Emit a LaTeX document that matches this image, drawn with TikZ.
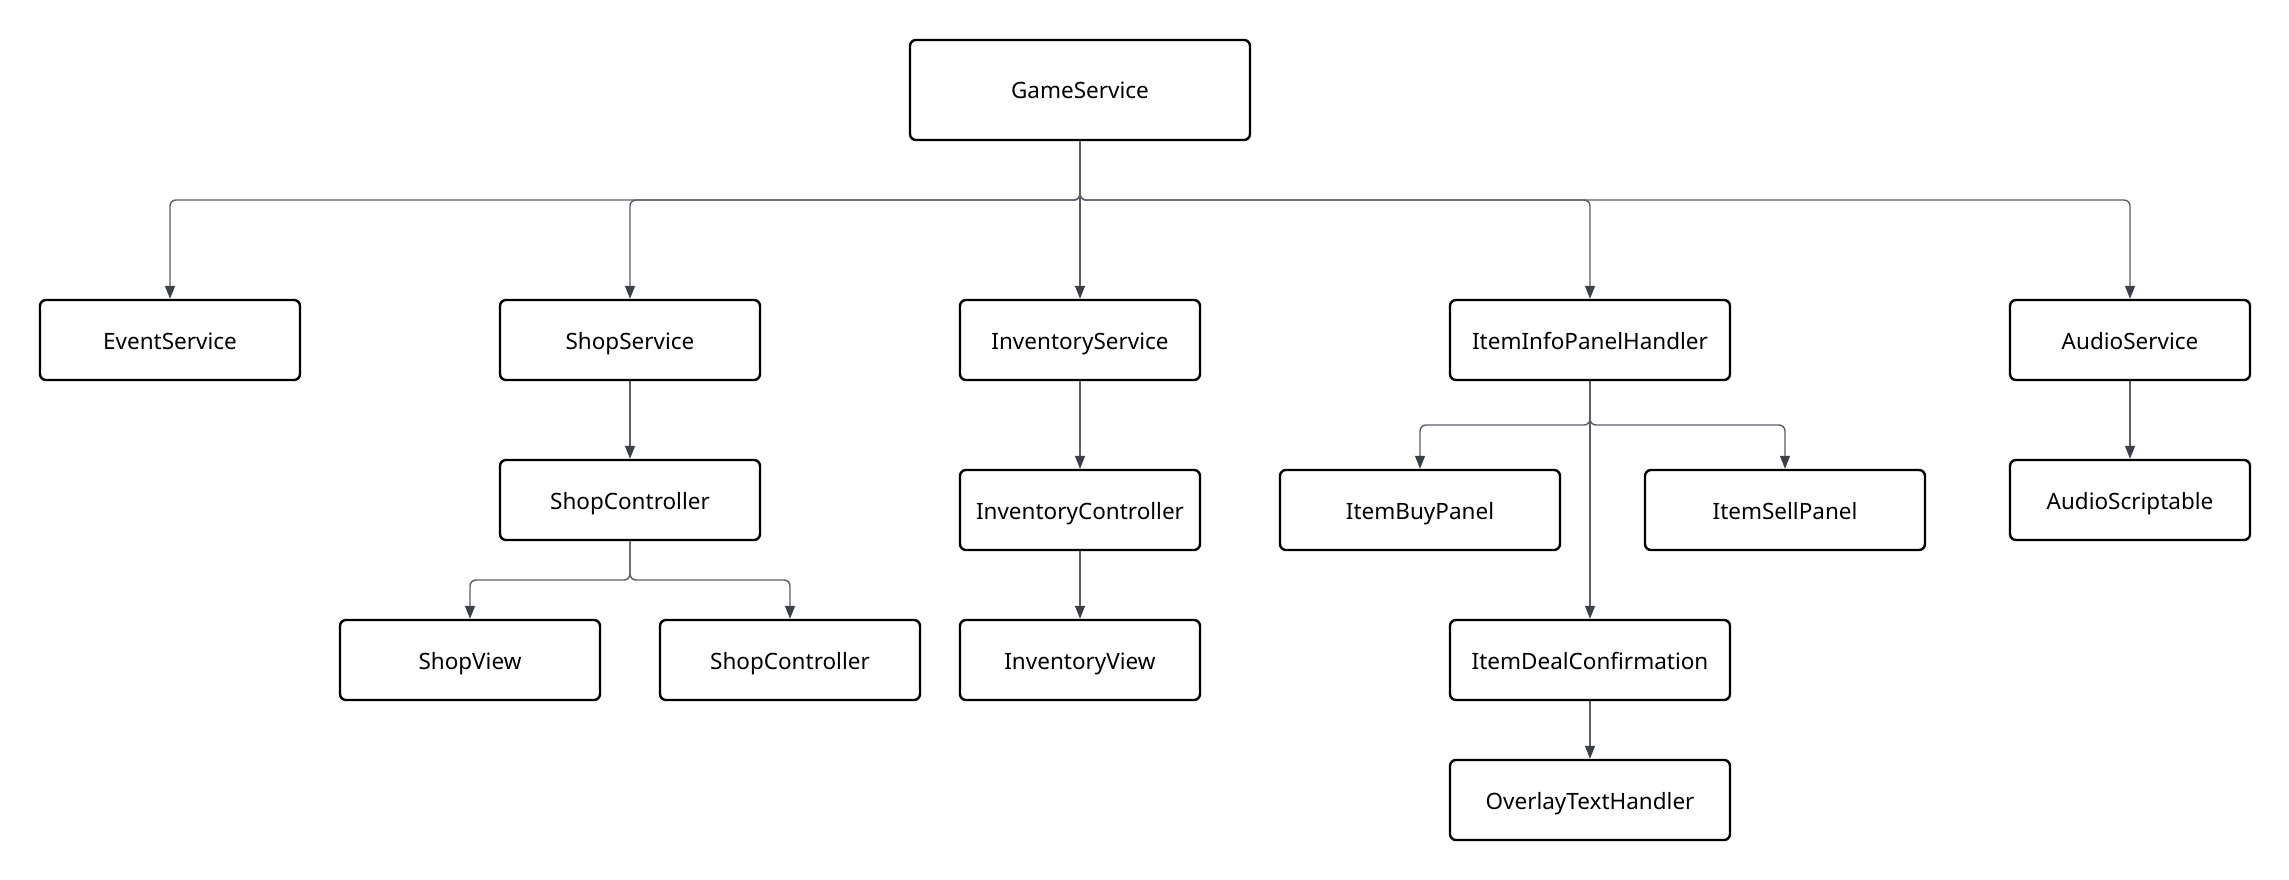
\documentclass[tikz,border=0pt]{standalone}
\usepackage{fontspec}
\setmainfont{Noto Sans}
\usetikzlibrary{arrows.meta}
\definecolor{edgegray}{HTML}{585D67}
\definecolor{tipgray}{HTML}{3B3F48}
\tikzset{
  box/.style={draw=black, line width=2.4pt, rounded corners=6pt, fill=white,
    minimum height=80pt, inner sep=0pt, align=center,
    text height=20pt, text depth=2pt,
    font=\fontsize{22.5}{27}\selectfont},
  link/.style={draw=edgegray, line width=1.4pt, rounded corners=6pt,
    -{Triangle[length=13pt,width=10pt,fill=tipgray,color=tipgray]}},
}
\begin{document}
\begin{tikzpicture}[x=1pt,y=-1pt]
\useasboundingbox[fill=white] (0,0) rectangle (2289,880);

% top level
\node[box, minimum width=340pt, minimum height=100pt] (game) at (1080,90) {GameService};

% first row
\node[box, minimum width=260pt] (event)    at (170,340)  {EventService};
\node[box, minimum width=260pt] (shopsvc)  at (630,340)  {ShopService};
\node[box, minimum width=240pt] (invsvc)   at (1080,340) {InventoryService};
\node[box, minimum width=280pt] (info)     at (1590,340) {ItemInfoPanelHandler};
\node[box, minimum width=240pt] (audiosvc) at (2130,340) {AudioService};

% second row
\node[box, minimum width=260pt] (shopctrl) at (630,500)  {ShopController};
\node[box, minimum width=240pt] (invctrl)  at (1080,510) {InventoryController};
\node[box, minimum width=280pt] (buy)      at (1420,510) {ItemBuyPanel};
\node[box, minimum width=280pt] (sell)     at (1785,510) {ItemSellPanel};
\node[box, minimum width=240pt] (audioscr) at (2130,500) {AudioScriptable};

% third row
\node[box, minimum width=260pt] (shopview)  at (470,660)  {ShopView};
\node[box, minimum width=260pt] (shopctrlb) at (790,660)  {ShopController};
\node[box, minimum width=240pt] (invview)   at (1080,660) {InventoryView};
\node[box, minimum width=280pt] (deal)      at (1590,660) {ItemDealConfirmation};

% fourth row
\node[box, minimum width=280pt] (overlay)   at (1590,800) {OverlayTextHandler};

% bus junctions
\coordinate (gbus) at (1080,200);
\coordinate (sbus) at (630,580);
\coordinate (ibus) at (1590,425);

% GameService children
\draw[link] (game.south) -- (gbus) -| (event.north);
\draw[link] (game.south) -- (gbus) -| (shopsvc.north);
\draw[link] (game.south) -- (invsvc.north);
\draw[link] (game.south) -- (gbus) -| (info.north);
\draw[link] (game.south) -- (gbus) -| (audiosvc.north);

% Shop branch
\draw[link] (shopsvc.south) -- (shopctrl.north);
\draw[link] (shopctrl.south) -- (sbus) -| (shopview.north);
\draw[link] (shopctrl.south) -- (sbus) -| (shopctrlb.north);

% Inventory branch
\draw[link] (invsvc.south) -- (invctrl.north);
\draw[link] (invctrl.south) -- (invview.north);

% Item info branch
\draw[link] (info.south) -- (ibus) -| (buy.north);
\draw[link] (info.south) -- (ibus) -| (sell.north);
\draw[link] (info.south) -- (deal.north);
\draw[link] (deal.south) -- (overlay.north);

% Audio branch
\draw[link] (audiosvc.south) -- (audioscr.north);
\end{tikzpicture}
\end{document}
